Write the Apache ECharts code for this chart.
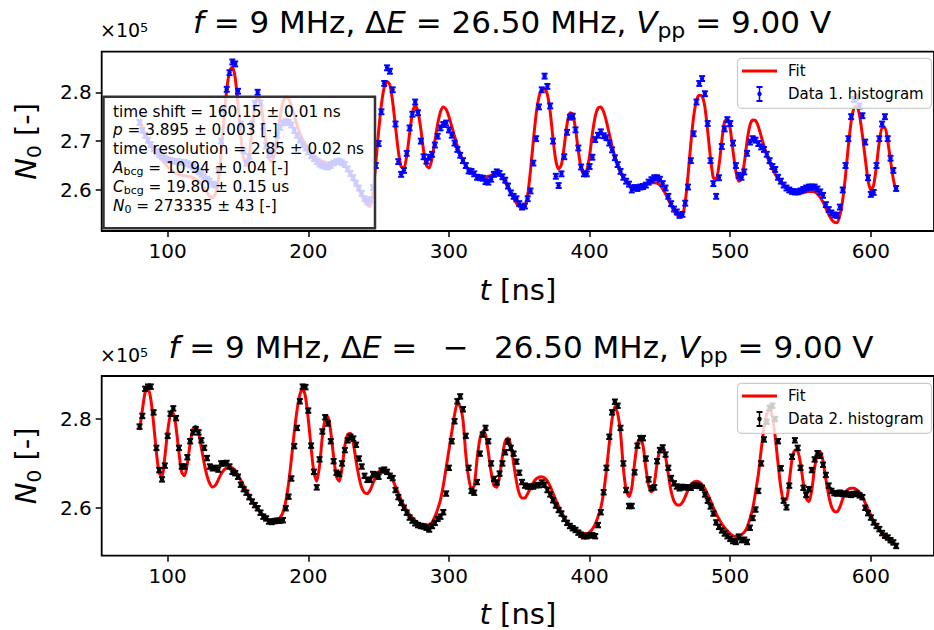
<!DOCTYPE html>
<html>
<head>
<meta charset="utf-8">
<script src="https://cdn.jsdelivr.net/npm/echarts@6/dist/echarts.min.js"></script>
<style>
  html, body { margin: 0; padding: 0; background: #ffffff; }
  #chart { width: 934px; height: 630px; }
</style>
</head>
<body>
<div id="chart"></div>
<script>
// Histogram bins: centres start at 80 ns, 2 ns wide
const T_START = 80;
const T_STEP = 2;

// Counts N0 in units of 1e5, measurement 1 (dE = +26.50 MHz)
const data1 = [
  2.738, 2.722, 2.712, 2.702, 2.693, 2.684, 2.678, 2.672, 2.668, 2.665,
  2.662, 2.660, 2.659, 2.658, 2.657, 2.657, 2.656, 2.654, 2.651, 2.647,
  2.642, 2.637, 2.632, 2.627, 2.622, 2.618, 2.612, 2.610, 2.640, 2.700,
  2.765, 2.806, 2.840, 2.862, 2.858, 2.802, 2.735, 2.680, 2.655, 2.668,
  2.735, 2.777, 2.800, 2.778, 2.730, 2.690, 2.672, 2.675, 2.690, 2.712,
  2.728, 2.737, 2.740, 2.738, 2.733, 2.722, 2.712, 2.702, 2.693, 2.686,
  2.678, 2.670, 2.664, 2.658, 2.653, 2.650, 2.648, 2.647, 2.650, 2.655,
  2.658, 2.659, 2.656, 2.652, 2.643, 2.634, 2.625, 2.614, 2.604, 2.593,
  2.582, 2.576, 2.580, 2.605, 2.650, 2.695, 2.760, 2.818, 2.850, 2.843,
  2.805, 2.735, 2.658, 2.632, 2.640, 2.675, 2.727, 2.755, 2.780, 2.758,
  2.700, 2.668, 2.659, 2.667, 2.673, 2.692, 2.710, 2.727, 2.734, 2.737,
  2.723, 2.712, 2.696, 2.683, 2.671, 2.660, 2.650, 2.639, 2.638, 2.633,
  2.626, 2.625, 2.624, 2.617, 2.616, 2.622, 2.632, 2.637, 2.634, 2.627,
  2.620, 2.608, 2.594, 2.587, 2.582, 2.572, 2.565, 2.567, 2.582, 2.598,
  2.655, 2.705, 2.770, 2.805, 2.833, 2.812, 2.772, 2.700, 2.628, 2.609,
  2.633, 2.668, 2.718, 2.749, 2.751, 2.723, 2.686, 2.647, 2.633, 2.633,
  2.648, 2.667, 2.703, 2.712, 2.719, 2.711, 2.707, 2.696, 2.682, 2.666,
  2.652, 2.638, 2.626, 2.618, 2.612, 2.600, 2.605, 2.603, 2.606, 2.607,
  2.610, 2.616, 2.621, 2.625, 2.625, 2.622, 2.613, 2.604, 2.587, 2.572,
  2.561, 2.555, 2.548, 2.550, 2.573, 2.606, 2.660, 2.715, 2.780, 2.818,
  2.828, 2.797, 2.736, 2.660, 2.613, 2.587, 2.625, 2.689, 2.725, 2.744,
  2.736, 2.696, 2.650, 2.630, 2.626, 2.637, 2.675, 2.698, 2.705, 2.702,
  2.695, 2.688, 2.683, 2.673, 2.660, 2.648, 2.642, 2.626, 2.618, 2.610,
  2.604, 2.600, 2.597, 2.596, 2.596, 2.598, 2.601, 2.604, 2.606, 2.606,
  2.606, 2.602, 2.596, 2.589, 2.570, 2.560, 2.553, 2.549, 2.548, 2.565,
  2.600, 2.650, 2.705, 2.750, 2.785, 2.790, 2.772, 2.752, 2.698, 2.625,
  2.591, 2.595, 2.650, 2.705, 2.735, 2.750, 2.705, 2.665, 2.640, 2.603
];

// Fitted model, measurement 1
const fit1 = [
  2.745, 2.728, 2.713, 2.700, 2.690, 2.682, 2.675, 2.668, 2.661, 2.654,
  2.648, 2.642, 2.637, 2.634, 2.632, 2.630, 2.629, 2.628, 2.627, 2.625,
  2.622, 2.618, 2.612, 2.604, 2.595, 2.587, 2.584, 2.592, 2.620, 2.675,
  2.745, 2.805, 2.843, 2.852, 2.830, 2.775, 2.710, 2.665, 2.652, 2.672,
  2.725, 2.772, 2.790, 2.780, 2.740, 2.695, 2.664, 2.658, 2.676, 2.710,
  2.750, 2.780, 2.790, 2.787, 2.772, 2.752, 2.733, 2.717, 2.703, 2.693,
  2.684, 2.677, 2.671, 2.666, 2.662, 2.659, 2.657, 2.656, 2.656, 2.657,
  2.658, 2.658, 2.656, 2.650, 2.642, 2.632, 2.622, 2.611, 2.600, 2.588,
  2.578, 2.569, 2.566, 2.595, 2.655, 2.720, 2.775, 2.810, 2.822, 2.815,
  2.780, 2.730, 2.680, 2.648, 2.645, 2.670, 2.715, 2.757, 2.773, 2.760,
  2.725, 2.680, 2.650, 2.645, 2.665, 2.700, 2.735, 2.760, 2.770, 2.765,
  2.750, 2.730, 2.710, 2.690, 2.673, 2.660, 2.650, 2.642, 2.636, 2.631,
  2.628, 2.627, 2.626, 2.627, 2.628, 2.630, 2.632, 2.633, 2.631, 2.625,
  2.616, 2.605, 2.594, 2.583, 2.573, 2.566, 2.562, 2.565, 2.590, 2.640,
  2.700, 2.755, 2.790, 2.806, 2.807, 2.795, 2.760, 2.705, 2.660, 2.643,
  2.652, 2.690, 2.735, 2.758, 2.755, 2.725, 2.680, 2.645, 2.632, 2.640,
  2.670, 2.715, 2.750, 2.768, 2.770, 2.760, 2.740, 2.715, 2.690, 2.668,
  2.650, 2.636, 2.625, 2.617, 2.611, 2.607, 2.605, 2.605, 2.606, 2.608,
  2.611, 2.613, 2.615, 2.615, 2.614, 2.610, 2.602, 2.592, 2.580, 2.568,
  2.557, 2.549, 2.545, 2.548, 2.575, 2.630, 2.695, 2.750, 2.783, 2.794,
  2.792, 2.770, 2.720, 2.665, 2.625, 2.622, 2.650, 2.700, 2.740, 2.745,
  2.725, 2.680, 2.638, 2.618, 2.622, 2.655, 2.700, 2.732, 2.743, 2.742,
  2.730, 2.710, 2.690, 2.672, 2.656, 2.643, 2.632, 2.623, 2.615, 2.609,
  2.604, 2.600, 2.597, 2.595, 2.594, 2.594, 2.595, 2.596, 2.597, 2.597,
  2.596, 2.592, 2.585, 2.575, 2.563, 2.550, 2.540, 2.534, 2.533, 2.548,
  2.580, 2.630, 2.690, 2.740, 2.768, 2.772, 2.752, 2.712, 2.665, 2.620,
  2.600, 2.610, 2.650, 2.698, 2.728, 2.728, 2.700, 2.660, 2.622, 2.597
];

// Counts N0 in units of 1e5, measurement 2 (dE = -26.50 MHz)
const data2 = [
  2.783, 2.807, 2.868, 2.873, 2.873, 2.815, 2.735, 2.685, 2.664, 2.695,
  2.762, 2.812, 2.824, 2.802, 2.735, 2.693, 2.693, 2.714, 2.750, 2.770,
  2.777, 2.770, 2.752, 2.735, 2.712, 2.693, 2.689, 2.690, 2.686, 2.700,
  2.700, 2.701, 2.693, 2.681, 2.678, 2.670, 2.652, 2.642, 2.634, 2.624,
  2.614, 2.606, 2.599, 2.589, 2.580, 2.576, 2.569, 2.568, 2.570, 2.571,
  2.571, 2.572, 2.599, 2.625, 2.666, 2.739, 2.780, 2.840, 2.873, 2.872,
  2.819, 2.740, 2.681, 2.646, 2.709, 2.772, 2.804, 2.790, 2.750, 2.705,
  2.679, 2.676, 2.700, 2.730, 2.752, 2.760, 2.756, 2.742, 2.711, 2.693,
  2.672, 2.663, 2.663, 2.676, 2.675, 2.670, 2.684, 2.686, 2.681, 2.672,
  2.667, 2.640, 2.624, 2.611, 2.600, 2.589, 2.578, 2.571, 2.565, 2.561,
  2.559, 2.558, 2.555, 2.551, 2.559, 2.566, 2.575, 2.580, 2.590, 2.632,
  2.690, 2.750, 2.795, 2.840, 2.851, 2.822, 2.762, 2.690, 2.638, 2.634,
  2.658, 2.722, 2.765, 2.780, 2.750, 2.700, 2.665, 2.657, 2.677, 2.700,
  2.725, 2.749, 2.735, 2.722, 2.704, 2.679, 2.658, 2.650, 2.648, 2.647,
  2.648, 2.651, 2.651, 2.657, 2.652, 2.640, 2.630, 2.617, 2.605, 2.595,
  2.587, 2.575, 2.566, 2.559, 2.554, 2.550, 2.544, 2.539, 2.536, 2.536,
  2.538, 2.538, 2.536, 2.561, 2.590, 2.635, 2.690, 2.760, 2.815, 2.839,
  2.830, 2.780, 2.700, 2.640, 2.604, 2.604, 2.680, 2.740, 2.757, 2.757,
  2.711, 2.664, 2.644, 2.646, 2.705, 2.730, 2.736, 2.720, 2.690, 2.667,
  2.655, 2.648, 2.644, 2.647, 2.646, 2.646, 2.645, 2.650, 2.650, 2.649,
  2.645, 2.630, 2.616, 2.603, 2.587, 2.567, 2.557, 2.549, 2.542, 2.536,
  2.530, 2.525, 2.523, 2.535, 2.527, 2.528, 2.523, 2.555, 2.577, 2.596,
  2.638, 2.700, 2.754, 2.794, 2.825, 2.830, 2.800, 2.750, 2.689, 2.616,
  2.601, 2.650, 2.715, 2.752, 2.735, 2.690, 2.645, 2.629, 2.642, 2.685,
  2.709, 2.723, 2.717, 2.697, 2.674, 2.650, 2.638, 2.633, 2.632, 2.634,
  2.631, 2.632, 2.630, 2.629, 2.631, 2.632, 2.628, 2.624, 2.600, 2.588,
  2.578, 2.567, 2.559, 2.552, 2.543, 2.537, 2.533, 2.527, 2.522, 2.514
];

// Fitted model, measurement 2
const fit2 = [
  2.775, 2.820, 2.860, 2.869, 2.845, 2.790, 2.725, 2.678, 2.672, 2.715,
  2.772, 2.810, 2.813, 2.780, 2.725, 2.680, 2.672, 2.700, 2.745, 2.778,
  2.784, 2.768, 2.735, 2.700, 2.672, 2.654, 2.647, 2.651, 2.663, 2.676,
  2.685, 2.690, 2.691, 2.690, 2.684, 2.674, 2.662, 2.650, 2.638, 2.627,
  2.616, 2.606, 2.598, 2.590, 2.583, 2.577, 2.572, 2.569, 2.568, 2.572,
  2.578, 2.590, 2.615, 2.655, 2.710, 2.770, 2.820, 2.855, 2.869, 2.850,
  2.800, 2.735, 2.680, 2.660, 2.695, 2.760, 2.800, 2.805, 2.770, 2.715,
  2.670, 2.660, 2.690, 2.740, 2.765, 2.768, 2.745, 2.705, 2.670, 2.645,
  2.634, 2.632, 2.640, 2.655, 2.670, 2.681, 2.686, 2.687, 2.683, 2.675,
  2.663, 2.648, 2.633, 2.618, 2.605, 2.594, 2.585, 2.577, 2.571, 2.566,
  2.563, 2.561, 2.561, 2.562, 2.567, 2.580, 2.597, 2.618, 2.650, 2.690,
  2.730, 2.770, 2.810, 2.835, 2.828, 2.798, 2.720, 2.668, 2.642, 2.650,
  2.710, 2.755, 2.772, 2.765, 2.725, 2.680, 2.650, 2.646, 2.670, 2.715,
  2.750, 2.757, 2.740, 2.700, 2.660, 2.632, 2.622, 2.622, 2.632, 2.645,
  2.657, 2.665, 2.669, 2.670, 2.667, 2.660, 2.648, 2.633, 2.618, 2.603,
  2.590, 2.578, 2.568, 2.560, 2.554, 2.549, 2.546, 2.544, 2.542, 2.542,
  2.545, 2.552, 2.563, 2.580, 2.600, 2.635, 2.685, 2.745, 2.800, 2.828,
  2.812, 2.770, 2.690, 2.640, 2.625, 2.645, 2.700, 2.745, 2.757, 2.740,
  2.690, 2.650, 2.636, 2.655, 2.700, 2.730, 2.734, 2.715, 2.675, 2.637,
  2.615, 2.607, 2.606, 2.612, 2.625, 2.640, 2.652, 2.658, 2.660, 2.658,
  2.652, 2.643, 2.630, 2.616, 2.601, 2.587, 2.575, 2.564, 2.555, 2.548,
  2.541, 2.537, 2.535, 2.535, 2.539, 2.545, 2.556, 2.575, 2.598, 2.635,
  2.675, 2.730, 2.780, 2.812, 2.824, 2.805, 2.760, 2.700, 2.645, 2.617,
  2.618, 2.660, 2.710, 2.730, 2.728, 2.700, 2.655, 2.622, 2.614, 2.640,
  2.690, 2.722, 2.727, 2.705, 2.665, 2.628, 2.603, 2.592, 2.591, 2.602,
  2.620, 2.635, 2.642, 2.644, 2.644, 2.641, 2.634, 2.624, 2.611, 2.597,
  2.583, 2.571, 2.560, 2.550, 2.541, 2.534, 2.528, 2.523, 2.519, 2.516
];

// Half-height of the statistical error bars (units of 1e5 counts)
const ERR = 0.005;

// Tick positions
const xTicks = [100, 200, 300, 400, 500, 600];
const yTicksTop = [2.6, 2.7, 2.8];
const yTicksBottom = [2.6, 2.8];

// Fit results printed in the parameter box
const fitParams = [
  'time shift = 160.15 \u00b1 0.01 ns',
  '{i|p} = 3.895 \u00b1 0.003 [-]',
  'time resolution = 2.85 \u00b1 0.02 ns',
  '{i|A}{s|bcg} = 10.94 \u00b1 0.04 [-]',
  '{i|C}{s|bcg} = 19.80 \u00b1 0.15 us',
  '{i|N}{s|0} = 273335 \u00b1 43 [-]'
];

const FONT = 'DejaVu Sans';
const TOP_Z = 100;
const times = data1.map((_, i) => T_START + i * T_STEP);
const pairs = (arr) => arr.map((v, i) => [times[i], v]);

const chart = echarts.init(document.getElementById('chart'), null, { renderer: 'svg' });

// Error bar glyph: vertical bar, two caps and a dot at the value
function errorBar(color) {
  return function (params, api) {
    const t = api.value(0);
    const v = api.value(1);
    const c = api.coord([t, v]);
    const hi = api.coord([t, v + ERR]);
    const lo = api.coord([t, v - ERR]);
    const cap = 3;
    const bar = { stroke: color, lineWidth: 1.5 };
    const capStyle = { stroke: color, lineWidth: 2 };
    return {
      type: 'group',
      children: [
        { type: 'line', shape: { x1: c[0], y1: hi[1], x2: c[0], y2: lo[1] }, style: bar },
        { type: 'line', shape: { x1: c[0] - cap, y1: hi[1], x2: c[0] + cap, y2: hi[1] }, style: capStyle },
        { type: 'line', shape: { x1: c[0] - cap, y1: lo[1], x2: c[0] + cap, y2: lo[1] }, style: capStyle },
        { type: 'circle', shape: { cx: c[0], cy: c[1], r: 2.2 }, style: { fill: color } }
      ]
    };
  };
}

function xAxisCfg(gridIndex) {
  return {
    type: 'value', gridIndex: gridIndex, min: 53.1, max: 644.9,
    axisLine: { show: false },
    splitLine: { show: false },
    axisTick: { show: true, customValues: xTicks, length: 6, lineStyle: { color: '#000', width: 1.5 } },
    axisLabel: { customValues: xTicks, fontSize: 20, fontFamily: FONT, color: '#000', margin: 10 },
    name: '{i|t} [ns]', nameLocation: 'middle', nameGap: 44,
    nameTextStyle: {
      fontSize: 29, fontFamily: FONT, color: '#000',
      rich: { i: { fontStyle: 'italic', fontSize: 29, fontFamily: FONT, color: '#000' } }
    }
  };
}

function yAxisCfg(gridIndex, min, max, ticks) {
  return {
    type: 'value', gridIndex: gridIndex, min: min, max: max,
    axisLine: { show: false },
    splitLine: { show: false },
    axisTick: { show: true, customValues: ticks, length: 6, lineStyle: { color: '#000', width: 1.5 } },
    axisLabel: {
      customValues: ticks, fontSize: 20, fontFamily: FONT, color: '#000', margin: 10,
      formatter: (v) => v.toFixed(1)
    },
    name: '{i|N}{s|0} [-]', nameLocation: 'middle', nameGap: 58, nameRotate: 90,
    nameTextStyle: {
      fontSize: 29, fontFamily: FONT, color: '#000',
      rich: {
        i: { fontStyle: 'italic', fontSize: 29, fontFamily: FONT, color: '#000', lineHeight: 36 },
        s: { fontSize: 20, fontFamily: FONT, color: '#000', verticalAlign: 'bottom', lineHeight: 20 }
      }
    }
  };
}

function titleText(str, x, y) {
  return {
    type: 'text', x: x, y: y, z: TOP_Z,
    style: {
      text: str, fill: '#000', fontSize: 31, fontFamily: FONT,
      align: 'center', verticalAlign: 'middle',
      rich: {
        i: { fontStyle: 'italic', fontSize: 31, fontFamily: FONT, lineHeight: 38 },
        s: { fontSize: 22, fontFamily: FONT, verticalAlign: 'bottom', lineHeight: 22 }
      }
    }
  };
}

function offsetText(x, y) {
  return {
    type: 'text', x: x, y: y, z: TOP_Z,
    style: {
      text: '\u00d710{p|5}', fill: '#000', fontSize: 19, fontFamily: FONT,
      verticalAlign: 'middle',
      rich: { p: { fontSize: 13, fontFamily: FONT, verticalAlign: 'top', lineHeight: 13 } }
    }
  };
}

function legendItems(y0, label, color) {
  return [
    { type: 'rect', z: TOP_Z, shape: { x: 737.5, y: y0, width: 194, height: 50, r: 4 },
      style: { fill: 'rgba(255,255,255,0.8)', stroke: '#cccccc', lineWidth: 1.2 } },
    { type: 'line', z: TOP_Z + 1, shape: { x1: 742, y1: y0 + 12.7, x2: 777, y2: y0 + 12.7 },
      style: { stroke: '#ff0000', lineWidth: 3 } },
    { type: 'text', z: TOP_Z + 1, x: 788, y: y0 + 12.7,
      style: { text: 'Fit', fill: '#000', fontSize: 15, fontFamily: FONT, verticalAlign: 'middle' } },
    { type: 'line', z: TOP_Z + 1, shape: { x1: 759.5, y1: y0 + 28.7, x2: 759.5, y2: y0 + 42.7 },
      style: { stroke: color, lineWidth: 1.5 } },
    { type: 'line', z: TOP_Z + 1, shape: { x1: 756.5, y1: y0 + 28.7, x2: 762.5, y2: y0 + 28.7 },
      style: { stroke: color, lineWidth: 2 } },
    { type: 'line', z: TOP_Z + 1, shape: { x1: 756.5, y1: y0 + 42.7, x2: 762.5, y2: y0 + 42.7 },
      style: { stroke: color, lineWidth: 2 } },
    { type: 'circle', z: TOP_Z + 1, shape: { cx: 759.5, cy: y0 + 35.7, r: 2.2 }, style: { fill: color } },
    { type: 'text', z: TOP_Z + 1, x: 788, y: y0 + 35.7,
      style: { text: label, fill: '#000', fontSize: 15, fontFamily: FONT, verticalAlign: 'middle' } }
  ];
}

function paramBoxItems() {
  const items = [
    { type: 'rect', z: TOP_Z, shape: { x: 103.5, y: 96.8, width: 271.5, height: 131.5 },
      style: { fill: 'rgba(255,255,255,0.8)', stroke: '#333333', lineWidth: 2.5 } }
  ];
  fitParams.forEach((line, k) => {
    items.push({
      type: 'text', z: TOP_Z + 1, x: 113, y: 111.5 + k * 18.8,
      style: {
        text: line, fill: '#000', fontSize: 15.3, fontFamily: FONT, verticalAlign: 'middle',
        rich: {
          i: { fontStyle: 'italic', fontSize: 15.3, fontFamily: FONT, lineHeight: 18 },
          s: { fontSize: 11, fontFamily: FONT, verticalAlign: 'bottom', lineHeight: 11 }
        }
      }
    });
  });
  return items;
}

const option = {
  animation: false,
  backgroundColor: '#ffffff',
  grid: [
    { left: 101.7, top: 51.7, width: 838, height: 179.3, show: true, borderColor: '#000', borderWidth: 1.8 },
    { left: 101.7, top: 376, width: 838, height: 179.7, show: true, borderColor: '#000', borderWidth: 1.8 }
  ],
  xAxis: [xAxisCfg(0), xAxisCfg(1)],
  yAxis: [
    yAxisCfg(0, 2.516, 2.883, yTicksTop),
    yAxisCfg(1, 2.492, 2.897, yTicksBottom)
  ],
  series: [
    {
      name: 'Fit', type: 'line', xAxisIndex: 0, yAxisIndex: 0,
      data: pairs(fit1), smooth: 0.25, showSymbol: false, z: 2,
      lineStyle: { color: '#ff0000', width: 3 }
    },
    {
      name: 'Data 1. histogram', type: 'custom', xAxisIndex: 0, yAxisIndex: 0,
      data: pairs(data1), encode: { x: 0, y: 1 }, z: 3,
      renderItem: errorBar('#0000ff')
    },
    {
      name: 'Fit', type: 'line', xAxisIndex: 1, yAxisIndex: 1,
      data: pairs(fit2), smooth: 0.25, showSymbol: false, z: 2,
      lineStyle: { color: '#ff0000', width: 3 }
    },
    {
      name: 'Data 2. histogram', type: 'custom', xAxisIndex: 1, yAxisIndex: 1,
      data: pairs(data2), encode: { x: 0, y: 1 }, z: 3,
      renderItem: errorBar('#000000')
    }
  ],
  graphic: [
    titleText('{i|f} = 9 MHz, \u0394{i|E} = 26.50 MHz, {i|V}{s|pp} = 9.00 V', 512, 22),
    titleText('{i|f} = 9 MHz, \u0394{i|E} = \u2002\u2212\u2002 26.50 MHz, {i|V}{s|pp} = 9.00 V', 521, 347),
    offsetText(100, 30),
    offsetText(100, 355)
  ].concat(paramBoxItems(), legendItems(58.3, 'Data 1. histogram', '#0000ff'),
           legendItems(383.3, 'Data 2. histogram', '#000000'))
};

chart.setOption(option);
</script>
</body>
</html>
